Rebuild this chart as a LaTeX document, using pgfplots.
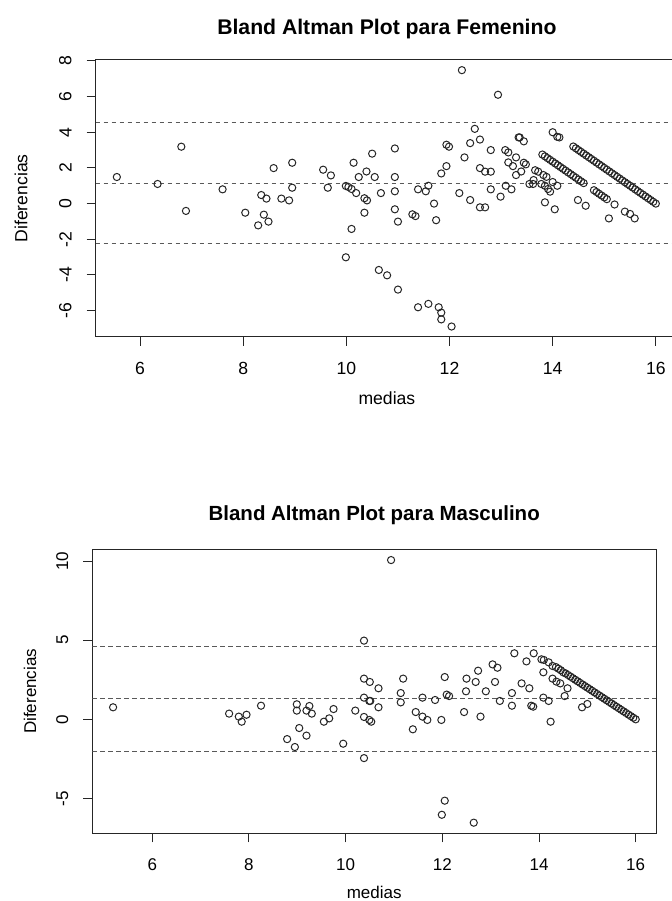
\documentclass[border=0pt]{standalone}
\usepackage{fontspec}
\setmainfont{Liberation Sans}
\usepackage{pgfplots}
\pgfplotsset{compat=1.18}

\definecolor{ink}{gray}{0.15}
\definecolor{refl}{gray}{0.35}

\pgfplotsset{
  ba/.style={
    scale only axis, anchor=south west,
    axis line style={line width=0.5bp, draw=ink},
    tick style={line width=0.5bp, draw=ink},
    major tick length=4.5bp,
    tick align=outside,
    xtick pos=left, ytick pos=left,
    /pgf/number format/assume math mode=true,
    xticklabel style={anchor=base},
    yticklabel style={rotate=90, anchor=south},
    yticklabel shift=4bp,
  },
  pts/.style={only marks, mark=o, mark size=1.8bp,
    mark options={line width=0.5bp, draw=ink}},
  lim/.style={no marks, line width=0.5bp, draw=refl,
    dash pattern=on 2.2bp off 1.8bp},
}

\begin{document}
\begin{tikzpicture}
\useasboundingbox (0,0) rectangle (336bp,450.5bp);
\clip (0,0) rectangle (336bp,450.5bp);

% Femenino
\begin{axis}[ba,
  at={(47.85bp,282.15bp)}, width=291.15bp, height=138.35bp,
  xmin=5.14, xmax=16.43, ymin=-7.46, ymax=8.05,
  xtick={6,8,10,12,14,16}, ytick={-6,-4,-2,0,2,4,6,8},
  tick label style={font=\fontsize{8.8bp}{10bp}\selectfont},
  xticklabel shift=14.6bp,
]
\addplot[lim] coordinates {(5.14,4.52) (16.43,4.52)};
\addplot[lim] coordinates {(5.14,1.13) (16.43,1.13)};
\addplot[lim] coordinates {(5.14,-2.26) (16.43,-2.26)};
\addplot[pts] coordinates {
(5.55,1.49) (6.34,1.10) (6.80,3.19) (6.89,-0.41) (7.60,0.80) (8.04,-0.51)
(8.29,-1.22) (8.35,0.48) (8.40,-0.62) (8.45,0.28) (8.49,-1.01) (8.59,1.99)
(8.74,0.28) (8.89,0.18) (8.95,2.29) (8.95,0.89) (9.55,1.90) (9.64,0.89)
(9.70,1.58) (9.99,-3.01) (9.99,0.99) (10.04,0.93) (10.10,0.82) (10.10,-1.42)
(10.14,2.29) (10.19,0.59) (10.24,1.49) (10.35,0.30) (10.35,-0.51) (10.39,1.80)
(10.40,0.18) (10.50,2.80) (10.55,1.49) (10.63,-3.72) (10.67,0.59)
(10.79,-4.02) (10.94,3.09) (10.94,1.49) (10.94,0.69) (10.94,-0.32) (11.00,-1.01)
(11.00,-4.82) (11.28,-0.60) (11.34,-0.70) (11.39,0.80) (11.39,-5.81) (11.54,0.69)
(11.59,1.00) (11.59,-5.62) (11.70,0.00) (11.74,-0.93) (11.79,-5.81) (11.84,-6.11)
(11.84,-6.49) (12.04,-6.89) (11.84,1.69) (11.94,2.10) (11.94,3.30) (11.99,3.19)
(12.19,0.59) (12.24,7.48) (12.29,2.59) (12.40,0.20) (12.40,3.39) (12.49,4.19)
(12.59,3.59) (12.59,1.99) (12.59,-0.21) (12.69,-0.21) (12.69,1.79) (12.80,1.79)
(12.80,0.80) (12.80,3.00) (12.94,6.10) (12.99,0.39) (13.08,3.00) (13.14,2.87)
(13.09,1.00) (13.20,0.80) (13.14,2.31) (13.23,2.10) (13.29,2.59) (13.29,1.60)
(13.34,3.71) (13.36,3.71) (13.44,3.49) (13.39,1.80) (13.44,2.29) (13.48,2.20)
(13.55,1.10) (13.62,1.10) (13.63,1.32) (13.66,1.87) (13.72,1.79) (13.78,1.10)
(13.82,1.60) (13.85,1.00) (13.85,0.07) (13.88,1.50) (13.91,0.82) (13.95,0.67)
(14.00,1.21) (14.04,-0.32) (14.09,1.00) (14.00,4.00) (14.09,3.74) (14.13,3.71)
(14.49,0.20) (14.64,-0.12) (15.09,-0.83) (15.40,-0.45) (15.50,-0.58) (15.59,-0.83)
% second band
(13.80,2.75) (13.85,2.65) (13.90,2.55) (13.95,2.45) (14.00,2.35) (14.05,2.25)
(14.10,2.15) (14.15,2.05) (14.20,1.95) (14.25,1.85) (14.30,1.75) (14.35,1.65)
(14.40,1.55) (14.45,1.45) (14.50,1.35) (14.55,1.25) (14.60,1.15) (14.80,0.75)
(14.85,0.65) (14.90,0.55) (14.95,0.45) (15.00,0.35) (15.05,0.25) (15.20,-0.05)
% main band
(14.40,3.20) (14.45,3.10) (14.50,3.00) (14.55,2.90) (14.60,2.80) (14.65,2.70)
(14.70,2.60) (14.75,2.50) (14.80,2.40) (14.85,2.30) (14.90,2.20) (14.95,2.10)
(15.00,2.00) (15.05,1.90) (15.10,1.80) (15.15,1.70) (15.20,1.60) (15.25,1.50)
(15.30,1.40) (15.35,1.30) (15.40,1.20) (15.45,1.10) (15.50,1.00) (15.55,0.90)
(15.60,0.80) (15.65,0.70) (15.70,0.60) (15.75,0.50) (15.80,0.40) (15.85,0.30)
(15.90,0.20) (15.95,0.10) (16.00,0.00)
};
\end{axis}

% Masculino
\begin{axis}[ba,
  at={(46.15bp,33.85bp)}, width=281.85bp, height=142bp,
  xmin=4.76, xmax=16.42, ymin=-7.20, ymax=10.74,
  xtick={6,8,10,12,14,16}, ytick={-5,0,5,10},
  tick label style={font=\fontsize{8.5bp}{10bp}\selectfont},
  xticklabel shift=14.2bp,
]
\addplot[lim] coordinates {(4.76,4.63) (16.42,4.63)};
\addplot[lim] coordinates {(4.76,1.29) (16.42,1.29)};
\addplot[lim] coordinates {(4.76,-2.05) (16.42,-2.05)};
\addplot[pts] coordinates {
(5.19,0.76) (7.59,0.36) (7.79,0.17) (7.85,-0.15) (7.95,0.29) (8.25,0.86)
(8.79,-1.25) (8.95,-1.75) (8.99,0.95) (8.99,0.55) (9.04,-0.55) (9.19,-1.03)
(9.19,0.55) (9.25,0.84) (9.30,0.36) (9.55,-0.15) (9.66,0.06) (9.75,0.65)
(9.95,-1.54) (10.20,0.55) (10.38,4.97) (10.38,2.57) (10.50,2.36) (10.38,1.37)
(10.49,1.16) (10.51,1.16) (10.38,0.15) (10.53,-0.15) (10.49,-0.04) (10.38,-2.45)
(10.68,1.96) (10.68,0.76)
(10.94,10.06) (11.19,2.57) (11.14,1.66) (11.14,1.07) (11.45,0.46) (11.59,1.37)
(11.59,0.17) (11.69,-0.04) (11.39,-0.63) (11.85,1.22) (11.98,-0.04) (12.05,2.67)
(12.09,1.56) (12.14,1.47) (12.45,0.46) (12.49,1.77) (12.50,2.57) (12.69,2.36)
(12.74,3.07) (12.79,0.17) (12.90,1.77) (13.04,3.47) (13.14,3.26) (13.09,2.36)
(13.19,1.16) (13.44,1.66) (13.44,0.86) (13.49,4.17) (13.64,2.27) (13.74,3.66)
(13.80,1.96) (13.84,0.86) (13.88,0.80) (13.89,4.17) (14.05,3.79) (14.10,3.75)
(14.09,2.97) (14.09,1.37) (14.20,1.16) (14.24,-0.15) (14.28,3.37) (14.28,2.57)
(14.36,2.38) (14.44,2.27) (14.50,2.97) (14.53,1.47) (14.59,1.96) (14.89,0.76)
(15.00,0.97)
(12.05,-5.14) (11.99,-6.03) (12.65,-6.53)
% main band
(14.20,3.60) (14.35,3.30) (14.40,3.20) (14.45,3.10) (14.55,2.90) (14.60,2.80)
(14.65,2.70) (14.70,2.60) (14.75,2.50) (14.80,2.40) (14.85,2.30) (14.90,2.20)
(14.95,2.10) (15.00,2.00) (15.05,1.90) (15.10,1.80) (15.15,1.70) (15.20,1.60)
(15.25,1.50) (15.30,1.40) (15.35,1.30) (15.40,1.20) (15.45,1.10) (15.50,1.00)
(15.55,0.90) (15.60,0.80) (15.65,0.70) (15.70,0.60) (15.75,0.50) (15.80,0.40)
(15.85,0.30) (15.90,0.20) (15.95,0.10) (16.00,0.00)
};
\end{axis}

\node[anchor=base, font=\bfseries\fontsize{10.6bp}{12bp}\selectfont, inner sep=0pt]
  at (193.45bp,433.2bp) {Bland Altman Plot para Femenino};
\node[anchor=base, font=\fontsize{8.8bp}{10bp}\selectfont, inner sep=0pt]
  at (193.45bp,248.2bp) {medias};
\node[rotate=90, font=\fontsize{8.8bp}{10bp}\selectfont, inner sep=0pt]
  at (10.5bp,351.35bp) {Diferencias};

\node[anchor=base, font=\bfseries\fontsize{10.24bp}{12bp}\selectfont, inner sep=0pt]
  at (187.1bp,190.2bp) {Bland Altman Plot para Masculino};
\node[anchor=base, font=\fontsize{8.5bp}{10bp}\selectfont, inner sep=0pt]
  at (187.1bp,1.2bp) {medias};
\node[rotate=90, font=\fontsize{8.5bp}{10bp}\selectfont, inner sep=0pt]
  at (15bp,104.85bp) {Diferencias};
\end{tikzpicture}
\end{document}
